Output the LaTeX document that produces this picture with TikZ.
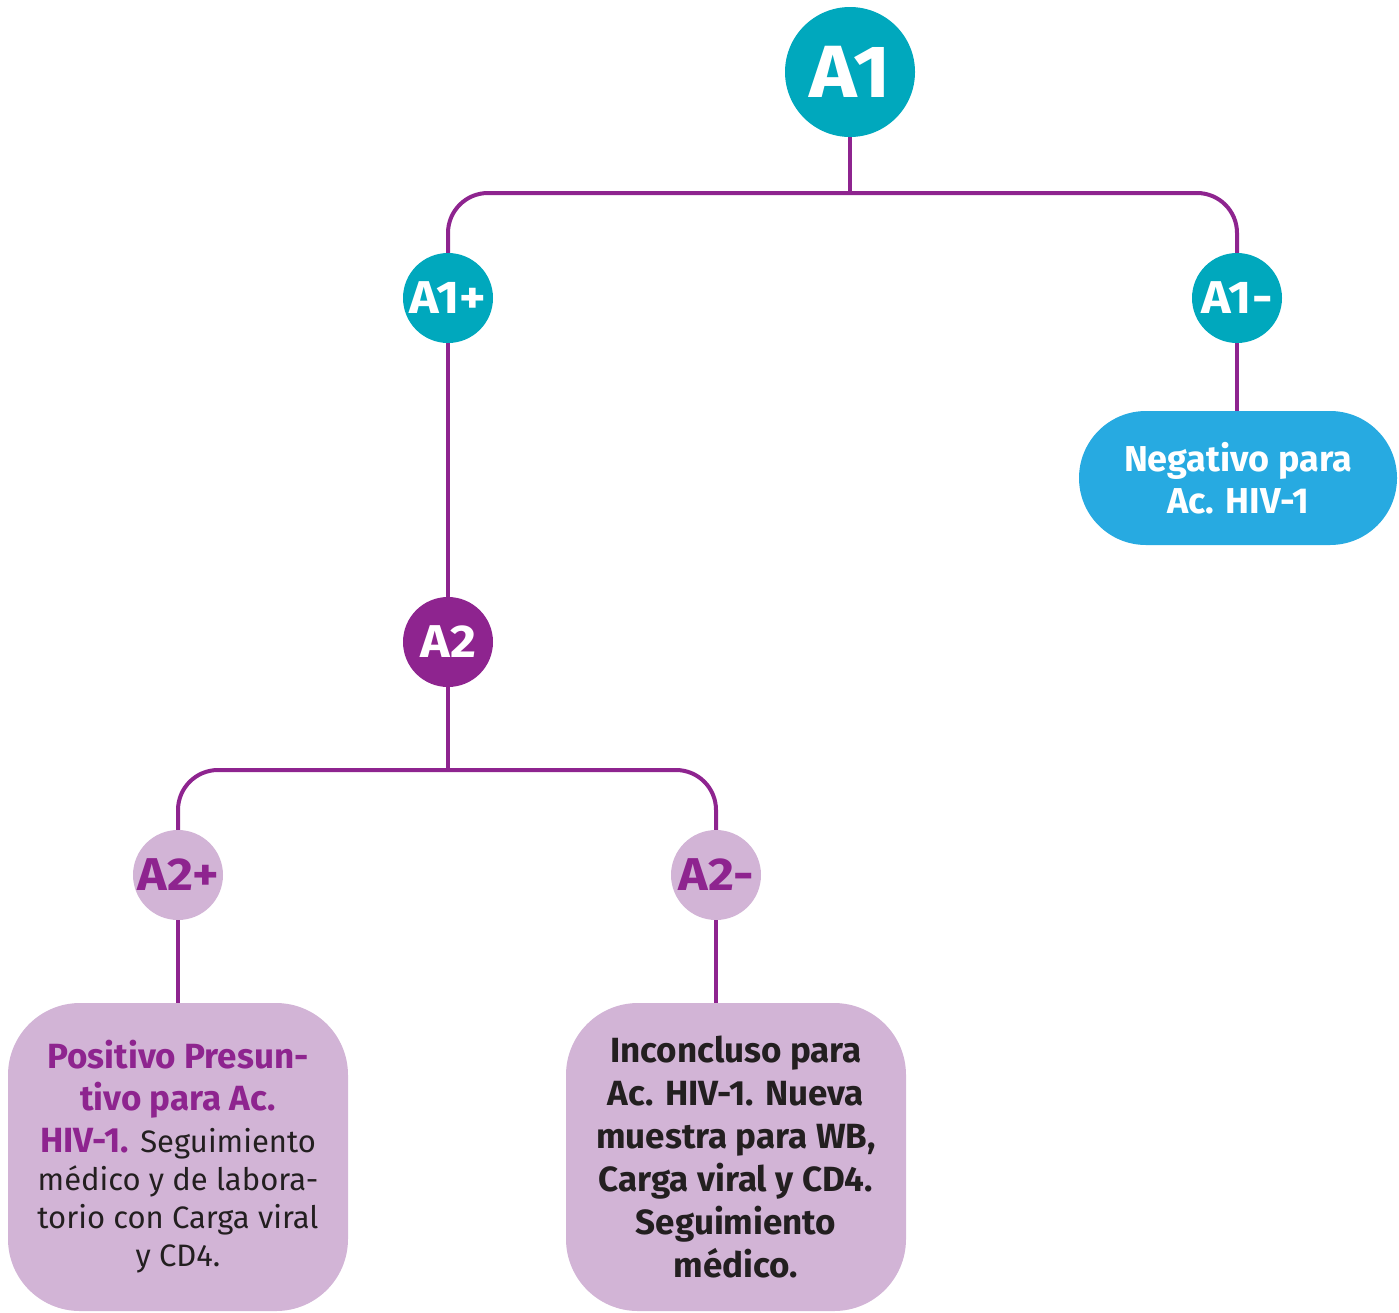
\documentclass[tikz,border=0pt]{standalone}
\usepackage{fontspec}
\setmainfont{Fira Sans}
\definecolor{teal}{HTML}{00A8BD}
\definecolor{plum}{HTML}{8E248F}
\definecolor{lilac}{HTML}{D2B4D6}
\definecolor{sky}{HTML}{27AAE1}
\definecolor{ink}{HTML}{231F20}
\newcommand{\widelabel}{\bfseries\addfontfeature{FakeStretch=1.09}}
\tikzset{
  conn/.style={draw=plum, line width=4pt},
  bigdot/.style={circle, fill=teal, text=white, inner sep=0pt, minimum size=130pt,
    font=\widelabel\fontsize{74}{74}\selectfont},
  tealdot/.style={circle, fill=teal, text=white, inner sep=0pt, minimum size=90pt,
    font=\widelabel\fontsize{46}{46}\selectfont},
  plumdot/.style={circle, fill=plum, text=white, inner sep=0pt, minimum size=90pt,
    font=\widelabel\fontsize{46}{46}\selectfont},
  lilacdot/.style={circle, fill=lilac, text=plum, inner sep=0pt, minimum size=90pt,
    font=\widelabel\fontsize{46}{46}\selectfont},
  resultbox/.style={rectangle, fill=lilac, rounded corners=72pt, inner sep=0pt,
    minimum width=340pt, minimum height=308pt, align=center},
  pill/.style={rectangle, fill=sky, text=white, rounded corners=67pt, inner sep=0pt,
    minimum width=318pt, minimum height=134pt, align=center,
    font=\bfseries\fontsize{36}{42}\selectfont},
}
\newcommand{\plainpart}{\mdseries\color{ink}\fontsize{31}{37}\selectfont}
\begin{document}
\begin{tikzpicture}[x=1pt, y=-1pt]
\useasboundingbox (0,0) rectangle (1399,1312);

% decision circles
\node[bigdot]   (A1)  at (850,72)   {A1};
\node[tealdot]  (A1p) at (448,298)  {A1+};
\node[tealdot]  (A1m) at (1237,298) {A1-};
\node[plumdot]  (A2)  at (448,642)  {A2};
\node[lilacdot] (A2p) at (178,875)  {A2+};
\node[lilacdot] (A2m) at (716,875)  {A2-};

% outcome boxes
\node[pill] (neg) at (1238,478) {Negativo para\\Ac. HIV-1};
\node[resultbox, text=plum, font=\bfseries\fontsize{35}{42}\selectfont] (pos) at (178,1157)
  {Positivo Presun-\\tivo para Ac.\\HIV-1. \plainpart Seguimiento\\[-4pt]
   \plainpart médico y de labora-\\[-4pt]\plainpart torio con Carga viral\\[-4pt]\plainpart y CD4.};
\node[resultbox, text=ink, font=\bfseries\fontsize{35}{43}\selectfont] (inc) at (736,1157)
  {Inconcluso para\\Ac. HIV-1. Nueva\\muestra para WB,\\Carga viral y CD4.\\Seguimiento\\médico.};

% branch points
\coordinate (bar1) at (850,193);
\coordinate (bar2) at (448,770);

% connectors
\draw[conn] (A1.south) -- (bar1);
\draw[conn, rounded corners=40pt] (A1p.north) -- (A1p.north |- bar1) -- (A1m.north |- bar1) -- (A1m.north);
\draw[conn] (A1p.south) -- (A2.north);
\draw[conn] (A1m.south) -- (A1m.south |- neg.north);
\draw[conn] (A2.south) -- (bar2);
\draw[conn, rounded corners=40pt] (A2p.north) -- (A2p.north |- bar2) -- (A2m.north |- bar2) -- (A2m.north);
\draw[conn] (A2p.south) -- (pos.north);
\draw[conn] (A2m.south) -- (A2m.south |- inc.north);
\end{tikzpicture}
\end{document}
